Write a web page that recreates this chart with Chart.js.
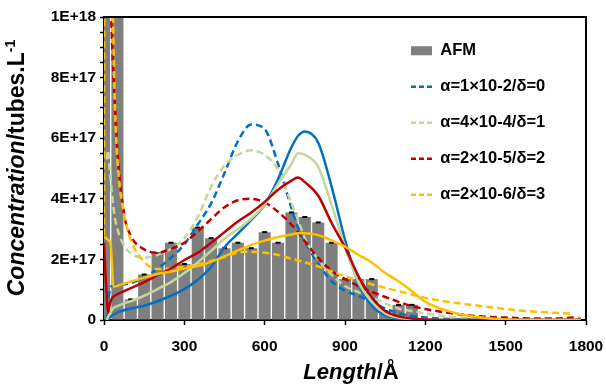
<!DOCTYPE html>
<html>
<head>
<meta charset="utf-8">
<script src="https://cdn.jsdelivr.net/npm/chart.js@4.4.0/dist/chart.umd.min.js"></script>
<style>
  html, body { margin: 0; padding: 0; background: #fff; }
  #wrap { width: 606px; height: 385px; }
</style>
</head>
<body>
<div id="wrap"><canvas id="chart"></canvas></div>
<script>
const E17 = 1e17;
const FONT = "'Liberation Sans', Arial, sans-serif";

// AFM histogram (length in Å, concentration in 1E17 tubes/L)
const barLengths = [0, 50, 100, 150, 200, 250, 300, 350, 400, 450, 500, 550, 600, 650, 700, 750, 800, 850, 900, 950, 1000, 1050, 1100, 1150];
const barValues = [20, 20, 0.68, 1.5, 2.2, 2.55, 1.85, 3.05, 2.7, 2.37, 2.55, 2.37, 2.9, 2.55, 3.55, 3.4, 3.22, 2.55, 1.35, 1.35, 1.35, 0.3, 0.5, 0.5];

// model curves, sampled on one length grid (1E17 tubes/L)
const curveLengths = [0, 5, 10, 15, 20, 25, 30, 35, 40, 50, 75, 100, 150, 200, 250, 300, 350, 400, 450, 500, 550, 600, 650, 700, 725, 750, 800, 850, 900, 950, 1000, 1050, 1100, 1150, 1200, 1300, 1400, 1500, 1600, 1700, 1750, 1780];
const blueDash = [null, null, 0, 0.5, 0.9, 1.08, 1.12, 1.14, 1.15, 1.16, 1.18, 1.22, 1.4, 1.7, 2.05, 2.5, 3.15, 3.85, 4.85, 5.9, 6.45, 6.3, 5.15, 3.7, 3.05, 2.6, 1.85, 1.28, 0.97, 0.8, 0.58, 0.38, 0.22, 0.14, 0.08, 0.03, 0.01, 0, 0, 0, 0, 0];
const greenDash = [null, null, 5.3, 5.6, 5.1, 4.6, 4.15, 3.75, 3.4, 3.0, 2.45, 2.2, 2.05, 2.15, 2.35, 2.7, 3.4, 4.4, 5.1, 5.45, 5.6, 5.45, 4.95, 3.85, 3.3, 2.7, 2.0, 1.5, 1.12, 0.92, 0.75, 0.55, 0.38, 0.3, 0.22, 0.1, 0.05, 0.02, 0.01, 0, 0, 0];
const redDash = [40, 30, 22, 17, 13, 10.5, 9.2, 8.1, 7.2, 5.6, 3.5, 2.78, 2.33, 2.22, 2.35, 2.55, 2.92, 3.33, 3.72, 3.95, 4.0, 3.88, 3.57, 3.15, 2.9, 2.6, 2.05, 1.62, 1.35, 1.12, 0.93, 0.76, 0.6, 0.46, 0.36, 0.22, 0.12, 0.08, 0.05, 0.05, 0.08, 0.03];
const orangeDash = [2.8, 40, 30, 22, 17, 14, 11.5, 9.5, 7.3, 5.3, 3.5, 2.65, 1.92, 1.68, 1.7, 1.75, 1.83, 1.95, 2.08, 2.22, 2.25, 2.22, 2.15, 2.02, 1.97, 1.9, 1.77, 1.6, 1.45, 1.3, 1.18, 1.06, 0.95, 0.84, 0.73, 0.58, 0.47, 0.36, 0.28, 0.23, 0.21, null];
const blueSolid = [null, null, 0, 0.03, 0.07, 0.11, 0.15, 0.18, 0.2, 0.25, 0.32, 0.38, 0.47, 0.62, 0.8, 1.02, 1.33, 1.75, 2.4, 2.85, 3.3, 3.8, 4.65, 5.7, 6.08, 6.22, 5.85, 4.4, 2.65, 1.2, 0.48, 0.15, 0.05, 0.02, 0.01, 0, 0, 0, 0, 0, 0, 0];
const greenSolid = [null, null, 0, 0.1, 0.2, 0.28, 0.34, 0.39, 0.42, 0.46, 0.55, 0.62, 0.8, 1.02, 1.25, 1.55, 1.9, 2.28, 2.68, 3.0, 3.35, 3.8, 4.5, 5.15, 5.5, 5.45, 5.05, 3.8, 2.4, 1.25, 0.6, 0.22, 0.08, 0.03, 0.01, 0, 0, 0, 0, 0, 0, 0];
const redSolid = [2.55, 1.6, 0.8, 0.25, 0.45, 0.62, 0.72, 0.77, 0.8, 0.85, 0.95, 1.05, 1.25, 1.48, 1.7, 1.98, 2.22, 2.55, 2.9, 3.25, 3.55, 3.9, 4.3, 4.6, 4.7, 4.55, 4.1, 3.2, 2.4, 1.45, 0.75, 0.3, 0.12, 0.05, 0.02, 0, 0, 0, 0, 0, 0, 0];
const orangeSolid = [2.75, 2.72, 2.68, 2.65, 2.6, 2.5, 1.8, 1.1, 1.11, 1.13, 1.2, 1.27, 1.4, 1.52, 1.6, 1.7, 1.78, 1.92, 2.1, 2.3, 2.48, 2.62, 2.74, 2.82, 2.86, 2.86, 2.8, 2.63, 2.42, 2.15, 1.9, 1.55, 1.28, 0.95, 0.6, 0.26, 0.09, 0.02, 0, 0, 0, 0];

const seriesLabels = ['α=1×10-2/δ=0', 'α=4×10-4/δ=1', 'α=2×10-5/δ=2', 'α=2×10-6/δ=3'];
const seriesColors = ['#0070C0', '#C3D69B', '#C00000', '#FFC000'];

function toPoints(vals) {
  return curveLengths.map((x, i) => ({ x: x, y: vals[i] === null ? null : vals[i] * E17 }));
}

function curve(label, vals, color, dashed, order) {
  return {
    type: 'line',
    label: label,
    data: toPoints(vals),
    borderColor: color,
    backgroundColor: color,
    borderWidth: 2.5,
    borderDash: dashed ? [7, 4] : [],
    pointRadius: 0,
    pointHoverRadius: 0,
    pointStyle: 'line',
    cubicInterpolationMode: 'monotone',
    order: order
  };
}

const barPoints = barLengths.map((x, i) => ({ x: x, y: barValues[i] * E17 }));
const capPoints = barPoints.filter(p => p.y <= 1e18);

// black frame on top and right of the plot
const frame = {
  id: 'frame',
  afterDatasetsDraw(chart) {
    const { ctx, chartArea: a } = chart;
    ctx.save();
    ctx.strokeStyle = '#000';
    ctx.lineWidth = 2;
    ctx.beginPath();
    ctx.moveTo(a.left, a.top);
    ctx.lineTo(a.right, a.top);
    ctx.lineTo(a.right, a.bottom);
    ctx.stroke();
    ctx.restore();
  }
};

// axis titles with mixed italic / upright parts
function drawRuns(ctx, runs, cx, cy) {
  let total = 0;
  runs.forEach(r => { ctx.font = r.font; total += ctx.measureText(r.text).width; });
  let x = cx - total / 2;
  runs.forEach(r => {
    ctx.font = r.font;
    ctx.fillText(r.text, x, cy + (r.dy || 0));
    x += ctx.measureText(r.text).width;
  });
}

const axisTitles = {
  id: 'axisTitles',
  afterDraw(chart) {
    const { ctx } = chart;
    ctx.save();
    ctx.fillStyle = '#000';
    ctx.textAlign = 'left';
    ctx.textBaseline = 'middle';
    drawRuns(ctx, [
      { font: 'italic bold 22px ' + FONT, text: 'Length' },
      { font: 'bold 22px ' + FONT, text: '/Å' }
    ], 351, 373);
    ctx.translate(18, 168);
    ctx.rotate(-Math.PI / 2);
    drawRuns(ctx, [
      { font: 'italic bold 23px ' + FONT, text: 'Concentration' },
      { font: 'bold 23px ' + FONT, text: '/tubes.L' },
      { font: 'bold 14px ' + FONT, text: '-1', dy: -7 }
    ], 0, 0);
    ctx.restore();
  }
};

// legend sits inside the plot, top right
const moveLegend = {
  id: 'moveLegend',
  afterLayout(chart) {
    const lg = chart.legend;
    if (!lg) return;
    lg.left = 391.5;
    lg.top = 23;
    lg.right = lg.left + lg.width;
    lg.bottom = lg.top + lg.height;
  }
};

const tickFont = { family: FONT, size: 15.5, weight: 'bold' };

new Chart(document.getElementById('chart'), {
  type: 'bar',
  data: {
    datasets: [
      {
        type: 'bar',
        label: 'AFM',
        data: barPoints,
        backgroundColor: '#7F7F7F',
        barPercentage: 0.9,
        categoryPercentage: 1,
        order: 20
      },
      curve(seriesLabels[0], blueDash, seriesColors[0], true, 8),
      curve(seriesLabels[1], greenDash, seriesColors[1], true, 7),
      curve(seriesLabels[2], redDash, seriesColors[2], true, 6),
      curve(seriesLabels[3], orangeDash, seriesColors[3], true, 5),
      curve('', blueSolid, seriesColors[0], false, 4),
      curve('', greenSolid, seriesColors[1], false, 3),
      curve('', redSolid, seriesColors[2], false, 2),
      curve('', orangeSolid, seriesColors[3], false, 1),
      {
        type: 'scatter',
        label: '',
        data: capPoints,
        pointStyle: 'line',
        pointRadius: 2.5,
        pointHoverRadius: 2.5,
        borderColor: '#000',
        borderWidth: 2,
        order: 15
      }
    ]
  },
  options: {
    animation: false,
    responsive: true,
    maintainAspectRatio: false,
    layout: { padding: { left: 0, top: 17, right: 0, bottom: 0 } },
    plugins: {
      tooltip: { enabled: false },
      legend: {
        position: 'chartArea',
        align: 'start',
        labels: {
          color: '#000',
          font: { family: FONT, size: 16.5, weight: 'bold' },
          usePointStyle: true,
          pointStyleWidth: 21,
          boxHeight: 9,
          padding: 19.5,
          filter: item => item.text !== '',
          sort: (a, b) => a.datasetIndex - b.datasetIndex,
          generateLabels(chart) {
            const items = Chart.defaults.plugins.legend.labels.generateLabels(chart);
            return items.map(it => {
              const ds = chart.data.datasets[it.datasetIndex];
              if (ds.type === 'line') {
                it.pointStyle = 'line';
                it.lineDash = [5, 3];
                it.lineWidth = 2.5;
              } else {
                it.pointStyle = 'rect';
                it.lineWidth = 0;
                it.fillStyle = '#7F7F7F';
                it.strokeStyle = '#7F7F7F';
              }
              return it;
            });
          }
        }
      }
    },
    scales: {
      x: {
        type: 'linear',
        min: 0,
        max: 1800,
        offset: false,
        grid: { offset: false, drawOnChartArea: false, drawTicks: true, tickLength: 5, tickColor: '#000', tickWidth: 1.5 },
        border: { display: true, color: '#000', width: 2 },
        ticks: {
          stepSize: 300,
          autoSkip: false,
          maxRotation: 0,
          padding: 12,
          color: '#000',
          font: tickFont,
          callback: v => String(v)
        },
        afterFit: s => {
          s.height = 65;
          s.paddingLeft = 0;
          s.paddingRight = 20;
        }
      },
      y: {
        min: 0,
        max: 1e18,
        grid: { drawOnChartArea: false, drawTicks: true, tickLength: 4, tickColor: '#000', tickWidth: 1.5 },
        border: { display: true, color: '#000', width: 2 },
        ticks: {
          stepSize: 5e16,
          autoSkip: false,
          padding: 4,
          color: '#000',
          font: tickFont,
          callback: v => {
            if (Math.round(v / 5e16) % 4 !== 0) return '';
            if (v === 0) return '0';
            return v.toExponential(0).toUpperCase();
          }
        },
        afterFit: s => {
          s.width = 104;
          s.paddingTop = 0;
          s.paddingBottom = 0;
        }
      }
    }
  },
  plugins: [frame, axisTitles, moveLegend]
});
</script>
</body>
</html>
